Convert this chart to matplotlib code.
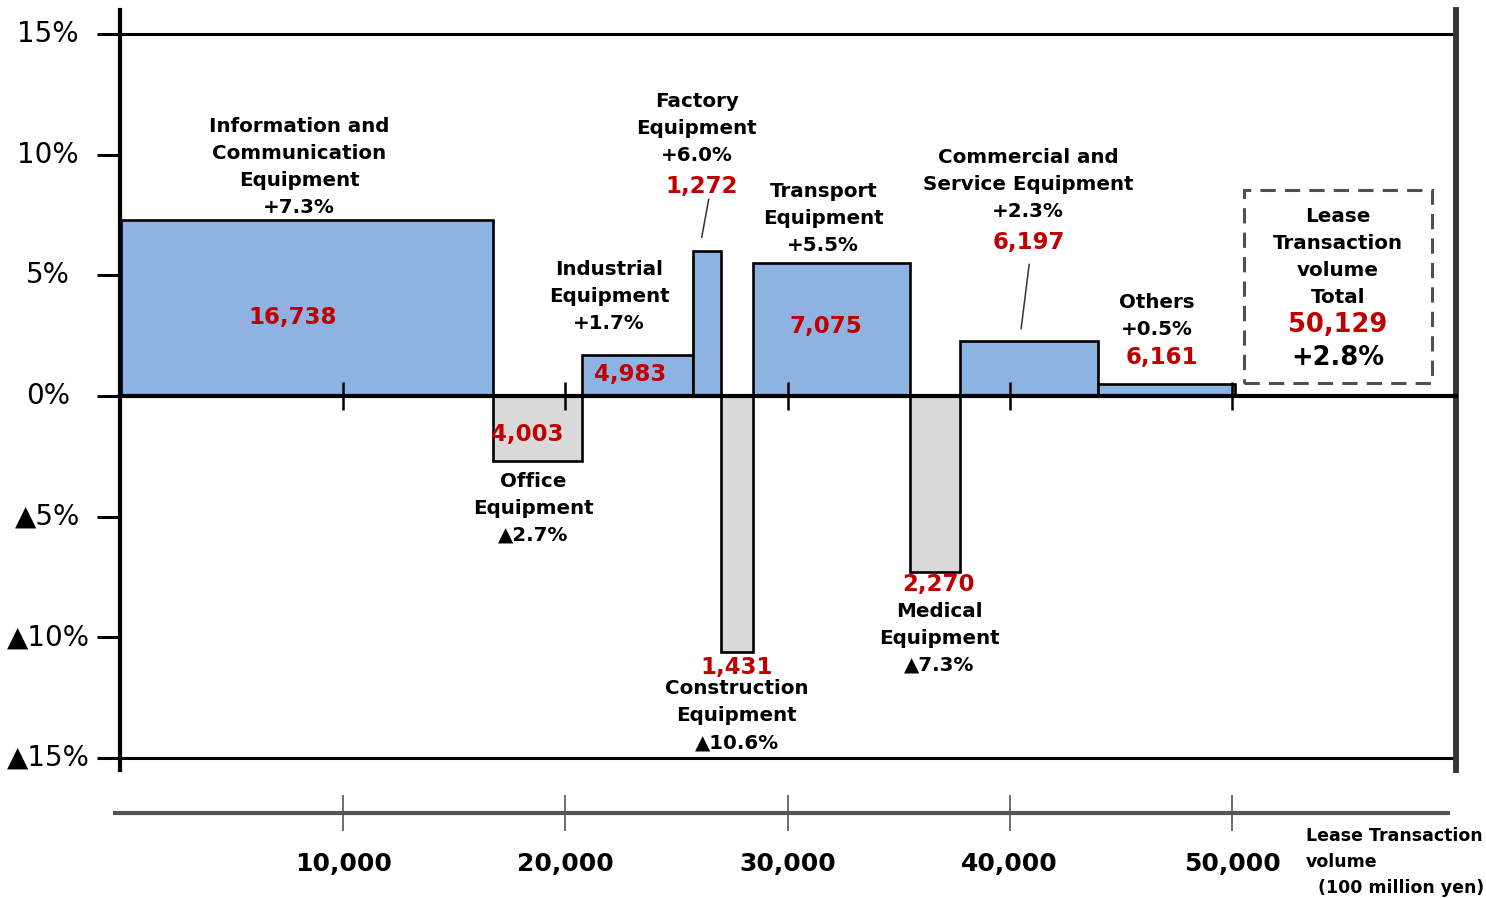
import matplotlib
matplotlib.use("Agg")
import matplotlib.pyplot as plt
from matplotlib.patches import Rectangle
from matplotlib.transforms import blended_transform_factory
import numpy as np

# ---- dati (100 million yen, variazione %) ----
categories = ["Information and\nCommunication\nEquipment", "Office\nEquipment",
              "Industrial\nEquipment", "Factory\nEquipment", "Construction\nEquipment",
              "Transport\nEquipment", "Medical\nEquipment",
              "Commercial and\nService Equipment", "Others"]
volumes = [16738, 4003, 4983, 1272, 1431, 7075, 2270, 6197, 6161]
growth = [7.3, -2.7, 1.7, 6.0, -10.6, 5.5, -7.3, 2.3, 0.5]
total_volume = 50129
total_growth = 2.8
y_ticks = [15, 10, 5, 0, -5, -10, -15]
x_ticks = [10000, 20000, 30000, 40000, 50000]

# ---- layout etichette (offset in pixel rispetto al bordo della barra) ----
name_off = [(-8, 53), (-4, -47), (-28, 59), (-10, 123), (0, -64),
            (-8, 45), (4, -66), (-1, 156), (-10, 68)]
red_off = [(-14, -98), (-10, 27), (-7, -19), (-5, 65), (0, -16),
           (-5, -63), (3, -12), (0, 98), (-5, 26)]
leaders = {3: ((2, 52), (-5, 14)), 7: ((0, 76), (-8, 12))}

BLUE, GRAY, RED = "#8db3e2", "#d9d9d9", "#c00000"
W, H = 1486, 899
LS = 27  # interlinea in pixel
FONT = "DejaVu Sans"


def pct(v):
    return ("+" if v >= 0 else "▲") + f"{abs(v):.1f}%"


fig = plt.figure(figsize=(W / 100, H / 100), dpi=100)
ax = fig.add_axes([120 / W, (H - 770) / H, 1336 / W, 760 / H])
ax.set_xlim(-45, 60081)
ax.set_ylim(-15.5, 16.0)
ax.set_axisbelow(False)

starts = np.concatenate([[0], np.cumsum(volumes)[:-1]])
colors = [BLUE if g >= 0 else GRAY for g in growth]
ax.bar(starts, growth, width=volumes, align="edge", color=colors,
       edgecolor="black", linewidth=1.9, zorder=2)

# assi
ax.spines["top"].set_visible(False)
ax.spines["left"].set_linewidth(3)
ax.spines["left"].set_color("black")
ax.spines["right"].set_linewidth(4.2)
ax.spines["right"].set_color("#333333")
ax.spines["bottom"].set_position(("data", 0))
ax.spines["bottom"].set_linewidth(3)
ax.spines["bottom"].set_zorder(4)
ax.set_xticks(x_ticks)
ax.tick_params(axis="x", direction="inout", length=20, width=1.8, labelbottom=False)
ax.set_yticks(y_ticks)
ax.tick_params(axis="y", direction="out", length=16.6, width=2.2, labelleft=False)
for yv in (15, -15):
    ax.axhline(yv, color="black", lw=2.2, zorder=1)

ytr = blended_transform_factory(fig.transFigure, ax.transData)
for yv in y_ticks:
    lab = ("▲" if yv < 0 else "") + f"{abs(yv)}%"
    ax.text(48 / W, yv, lab, transform=ytr, ha="center", va="center",
            fontsize=20, family=FONT, clip_on=False)

# etichette barre
centers = starts + np.array(volumes) / 2
for i, (cat, vol, g) in enumerate(zip(categories, volumes, growth)):
    cx = centers[i]
    lines = cat.split("\n") + [pct(g)]
    dx, dy = name_off[i]
    n = len(lines)
    for k, line in enumerate(lines):
        ax.annotate(line, (cx, g), xytext=(dx, dy + (n - 1) / 2 * LS - k * LS),
                    textcoords="offset pixels", ha="center", va="center",
                    fontsize=14.3, fontweight="bold", family=FONT)
    rx, ry = red_off[i]
    ax.annotate(f"{vol:,}", (cx, g), xytext=(rx, ry), textcoords="offset pixels",
                ha="center", va="center", fontsize=16.5, fontweight="bold",
                color=RED, family=FONT, zorder=6)

# linee di richiamo
inv = ax.transData.inverted()
for i, (p0, p1) in leaders.items():
    base = ax.transData.transform((centers[i], growth[i]))
    a = inv.transform(base + np.array(p0))
    b = inv.transform(base + np.array(p1))
    ax.plot([a[0], b[0]], [a[1], b[1]], color="#333333", lw=1.1, zorder=3)

# riquadro totale
ax.add_patch(Rectangle((0.841, 0.509), 0.141, 0.254, transform=ax.transAxes,
                       fill=False, edgecolor="#505050", lw=2.2,
                       linestyle=(0, (5, 3)), zorder=3))
for k, line in enumerate(["Lease", "Transaction", "volume", "Total"]):
    ax.text(0.9117, (770 - 217 - k * 26.7) / 760, line, transform=ax.transAxes,
            ha="center", va="center", fontsize=14.3, fontweight="bold", family=FONT)
ax.text(0.9117, (770 - 325) / 760, f"{total_volume:,}", transform=ax.transAxes,
        ha="center", va="center", fontsize=18.5, fontweight="bold", color=RED, family=FONT)
ax.text(0.9117, (770 - 358) / 760, pct(total_growth), transform=ax.transAxes,
        ha="center", va="center", fontsize=18.5, fontweight="bold", family=FONT)

# asse inferiore dei volumi
ax2 = fig.add_axes([115 / W, (H - 813) / H, 1333 / W, 0.0001])
ax2.set_xlim(-270, 59721)
ax2.set_ylim(0, 1)
for s in ["top", "left", "right"]:
    ax2.spines[s].set_visible(False)
ax2.spines["bottom"].set_linewidth(3)
ax2.spines["bottom"].set_color("#555555")
ax2.set_yticks([])
ax2.set_xticks(x_ticks)
ax2.set_xticklabels([f"{t:,}" for t in x_ticks], fontsize=18, fontweight="bold",
                    family=FONT)
ax2.tick_params(axis="x", direction="inout", length=26, width=1.2, color="#555555",
                pad=15)
ax2.patch.set_visible(False)

for k, line in enumerate(["Lease Transaction", "volume", "  (100 million yen)"]):
    fig.text(1306 / W, 1 - (836 + k * 26) / H, line, ha="left", va="center",
             fontsize=12.5, fontweight="bold", family=FONT)

fig.savefig("out.png", dpi=100)
